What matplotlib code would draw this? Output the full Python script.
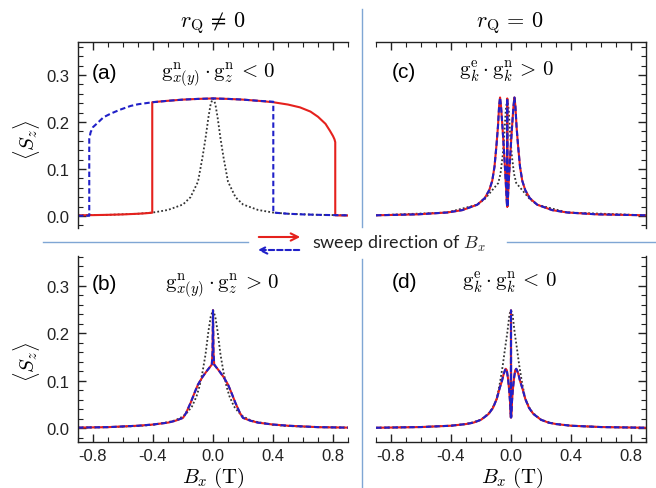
import matplotlib
matplotlib.use('Agg')
import matplotlib.pyplot as plt
from matplotlib.lines import Line2D
from matplotlib.patches import FancyArrowPatch
from matplotlib.ticker import MultipleLocator, FormatStrFormatter

plt.rcParams['mathtext.fontset'] = 'cm'
plt.rcParams['font.family'] = ['Liberation Sans', 'DejaVu Sans']
plt.rcParams['axes.unicode_minus'] = False

# ---- panel (a): r_Q != 0, g^n_x(y) * g^n_z < 0 ----
dot_a_x = [-0.9, -0.7, -0.5, -0.4, -0.3, -0.2, -0.15, -0.1, -0.07, -0.05, -0.03, -0.015, 0.0,
           0.015, 0.03, 0.05, 0.07, 0.1, 0.15, 0.2, 0.3, 0.4, 0.5, 0.7, 0.9]
dot_a_y = [0.0015, 0.0025, 0.0048, 0.0074, 0.0129, 0.0245, 0.040, 0.073, 0.125, 0.165, 0.211, 0.239, 0.250,
           0.239, 0.211, 0.165, 0.125, 0.073, 0.040, 0.0245, 0.0129, 0.0074, 0.0048, 0.0025, 0.0015]

red_a_x = [-0.9, -0.8, -0.7, -0.6, -0.5, -0.45, -0.405, -0.405, -0.3, -0.2, -0.1, 0.0, 0.1, 0.2, 0.3,
           0.4, 0.5, 0.58, 0.65, 0.7, 0.75, 0.78, 0.8, 0.81, 0.815, 0.815, 0.85, 0.9]
red_a_y = [0.0015, 0.0019, 0.0025, 0.0034, 0.0048, 0.0058, 0.0070, 0.242, 0.245, 0.2475, 0.249, 0.250,
           0.249, 0.2475, 0.245, 0.242, 0.237, 0.231, 0.222, 0.211, 0.196, 0.181, 0.170, 0.163, 0.157,
           0.0015, 0.0012, 0.0010]

blue_a_x = [-0.9, -0.825, -0.825, -0.816, -0.8, -0.776, -0.73, -0.68, -0.62, -0.55, -0.5, -0.4, -0.3,
            -0.2, -0.1, 0.0, 0.1, 0.2, 0.3, 0.402, 0.402, 0.5, 0.6, 0.7, 0.8, 0.9]
blue_a_y = [0.0005, 0.0005, 0.164, 0.178, 0.189, 0.196, 0.210, 0.218, 0.226, 0.234, 0.2376, 0.242, 0.245,
            0.2475, 0.249, 0.250, 0.249, 0.2475, 0.245, 0.243, 0.0073, 0.0048, 0.0034, 0.0025, 0.0019, 0.0015]

# ---- panel (b): r_Q != 0, g^n_x(y) * g^n_z > 0 ----
dot_b_x = [-0.9, -0.7, -0.5, -0.4, -0.3, -0.25, -0.2, -0.17, -0.14, -0.11, -0.09, -0.07, -0.05, -0.03,
           -0.015, 0.0, 0.015, 0.03, 0.05, 0.07, 0.09, 0.11, 0.14, 0.17, 0.2, 0.25, 0.3, 0.4, 0.5, 0.7, 0.9]
dot_b_y = [0.0015, 0.0025, 0.0048, 0.0074, 0.013, 0.017, 0.025, 0.034, 0.046, 0.067, 0.088, 0.118, 0.155,
           0.205, 0.235, 0.248, 0.235, 0.205, 0.155, 0.118, 0.088, 0.067, 0.046, 0.034, 0.025, 0.017,
           0.013, 0.0074, 0.0048, 0.0025, 0.0015]

sweep_b_x = [-0.9, -0.7, -0.5, -0.4, -0.3, -0.25, -0.2, -0.18, -0.15, -0.12, -0.1, -0.07, -0.04, -0.02,
             -0.008, -0.003, 0.0, 0.003, 0.008, 0.02, 0.04, 0.07, 0.1, 0.12, 0.15, 0.18, 0.2, 0.25, 0.3,
             0.4, 0.5, 0.7, 0.9]
sweep_b_y = [0.0015, 0.0025, 0.0055, 0.008, 0.012, 0.016, 0.022, 0.032, 0.053, 0.077, 0.092, 0.108, 0.121,
             0.129, 0.134, 0.160, 0.248, 0.160, 0.134, 0.129, 0.121, 0.108, 0.092, 0.077, 0.053, 0.032,
             0.022, 0.016, 0.012, 0.008, 0.0055, 0.0025, 0.0015]

# ---- panel (c): r_Q = 0, g^e_k * g^n_k > 0 ----
dot_c_x = [-0.9, -0.425, -0.225, -0.175, -0.125, -0.085, -0.07, -0.055, -0.045, -0.035, -0.025, -0.015,
           -0.005, 0.005, 0.02, 0.035, 0.075, 0.125, 0.175, 0.375, 0.9]
dot_c_y = [0.0015, 0.0075, 0.024, 0.036, 0.055, 0.07, 0.09, 0.13, 0.17, 0.225, 0.25, 0.225, 0.17, 0.13,
           0.09, 0.07, 0.055, 0.036, 0.024, 0.0075, 0.0015]

sweep_c_x = [-0.9, -0.625, -0.425, -0.325, -0.225, -0.175, -0.145, -0.125, -0.11, -0.097, -0.087, -0.079,
             -0.073, -0.067, -0.057, -0.047, -0.037, -0.029, -0.026, -0.025, -0.024, -0.021, -0.013,
             -0.003, 0.007, 0.017, 0.023, 0.029, 0.037, 0.047, 0.06, 0.075, 0.095, 0.125, 0.175, 0.275,
             0.375, 0.575, 0.9]
sweep_c_y = [0.0015, 0.0035, 0.0075, 0.0125, 0.024, 0.038, 0.055, 0.075, 0.105, 0.15, 0.19, 0.235,
             0.252, 0.235, 0.19, 0.14, 0.085, 0.035, 0.02, 0.25, 0.02, 0.035, 0.085, 0.14, 0.19, 0.235,
             0.252, 0.235, 0.19, 0.15, 0.105, 0.075, 0.055, 0.038, 0.024, 0.0125, 0.0075, 0.0035, 0.0015]

# ---- panel (d): r_Q = 0, g^e_k * g^n_k < 0 ----
dot_d_x = [-0.9, -0.6, -0.4, -0.3, -0.25, -0.2, -0.14, -0.12, -0.095, -0.073, -0.055, -0.04, -0.025,
           -0.01, 0.0, 0.01, 0.025, 0.04, 0.055, 0.073, 0.095, 0.12, 0.14, 0.2, 0.25, 0.3, 0.4, 0.6, 0.9]
dot_d_y = [0.0012, 0.0027, 0.0055, 0.009, 0.013, 0.018, 0.034, 0.045, 0.062, 0.097, 0.132, 0.167, 0.20,
           0.24, 0.248, 0.24, 0.20, 0.167, 0.132, 0.097, 0.062, 0.045, 0.034, 0.018, 0.013, 0.009,
           0.0055, 0.0027, 0.0012]

sweep_d_x = [-0.9, -0.6, -0.4, -0.3, -0.25, -0.2, -0.15, -0.12, -0.095, -0.075, -0.06, -0.05, -0.04,
             -0.035, -0.028, -0.02, -0.012, -0.005, -0.002, -0.001, 0.0, 0.001, 0.002, 0.005, 0.012,
             0.02, 0.028, 0.035, 0.04, 0.05, 0.06, 0.075, 0.095, 0.12, 0.15, 0.2, 0.25, 0.3, 0.4, 0.6, 0.9]
sweep_d_y = [0.0012, 0.0027, 0.0055, 0.009, 0.012, 0.018, 0.03, 0.043, 0.062, 0.085, 0.10, 0.113, 0.122,
             0.125, 0.122, 0.105, 0.08, 0.05, 0.03, 0.023, 0.248, 0.023, 0.03, 0.05, 0.08, 0.105, 0.122,
             0.125, 0.122, 0.113, 0.10, 0.085, 0.062, 0.043, 0.03, 0.018, 0.012, 0.009, 0.0055, 0.0027,
             0.0012]

RED = '#e5211d'
BLUE = '#2020c8'
DOT = '#333333'
SEP = '#7fa6d4'
DASH = (0, (2.6, 1.4))

W, H = 656, 489


def box(l, t, r, b):
    return [l / W, 1 - b / H, (r - l) / W, (b - t) / H]


def fpos(x, y):
    return (x / W, 1 - y / H)


def setup(ax, yside, xside, ylim):
    ax.set_xlim(-0.9, 0.9)
    ax.set_ylim(*ylim)
    for s in ['left', 'right', 'top', 'bottom']:
        ax.spines[s].set_visible(s in (yside, xside))
        ax.spines[s].set_linewidth(1.0)
        ax.spines[s].set_color('#222222')
    ax.xaxis.set_major_locator(MultipleLocator(0.4))
    ax.xaxis.set_minor_locator(MultipleLocator(0.1))
    ax.yaxis.set_major_locator(MultipleLocator(0.1))
    ax.yaxis.set_minor_locator(MultipleLocator(0.02))
    ax.xaxis.set_major_formatter(FormatStrFormatter('%.1f'))
    ax.yaxis.set_major_formatter(FormatStrFormatter('%.1f'))
    ax.tick_params(which='both', direction='in', color='#222222', labelcolor='#222222',
                   left=(yside == 'left'), right=(yside == 'right'),
                   top=(xside == 'top'), bottom=(xside == 'bottom'),
                   labelleft=(yside == 'left'), labelright=False,
                   labeltop=False, labelbottom=(xside == 'bottom'), labelsize=12)
    ax.tick_params(axis='y', which='major', pad=6)
    ax.tick_params(axis='x', which='major', pad=4)
    ax.tick_params(which='major', length=6, width=1)
    ax.tick_params(which='minor', length=3.5, width=0.8)
    ax.patch.set_alpha(0)


def draw(ax, dx, dy, rx, ry, bx, by):
    ax.plot(dx, dy, color=DOT, lw=1.3, linestyle=(0, (1, 1.2)))
    ax.plot(rx, ry, color=RED, lw=1.5)
    ax.plot(bx, by, color=BLUE, lw=1.5, linestyle=DASH)


fig = plt.figure(figsize=(6.56, 4.89), dpi=100)

ax_a = fig.add_axes(box(78, 43, 348, 229))
ax_b = fig.add_axes(box(78, 257, 348, 443))
ax_c = fig.add_axes(box(376, 43, 646, 229))
ax_d = fig.add_axes(box(376, 257, 646, 443))

setup(ax_a, 'left', 'top', (-0.0255, 0.370))
setup(ax_b, 'left', 'bottom', (-0.0287, 0.362))
setup(ax_c, 'right', 'top', (-0.0255, 0.370))
setup(ax_d, 'right', 'bottom', (-0.0287, 0.362))

draw(ax_a, dot_a_x, dot_a_y, red_a_x, red_a_y, blue_a_x, blue_a_y)
draw(ax_b, dot_b_x, dot_b_y, sweep_b_x, sweep_b_y, sweep_b_x, sweep_b_y)
draw(ax_c, dot_c_x, dot_c_y, sweep_c_x, sweep_c_y, sweep_c_x, sweep_c_y)
draw(ax_d, dot_d_x, dot_d_y, sweep_d_x, sweep_d_y, sweep_d_x, sweep_d_y)

# headers
fig.text(*fpos(213, 23), r'$r_{\rm Q}\,\neq\,0$', ha='center', va='center', fontsize=16)
fig.text(*fpos(510, 23), r'$r_{\rm Q}\,=\,0$', ha='center', va='center', fontsize=16)

# panel labels and conditions
fig.text(*fpos(92, 74), '(a)', ha='left', va='center', fontsize=15)
fig.text(*fpos(92, 285), '(b)', ha='left', va='center', fontsize=15)
fig.text(*fpos(392, 73), '(c)', ha='left', va='center', fontsize=15)
fig.text(*fpos(392, 283), '(d)', ha='left', va='center', fontsize=15)
fig.text(*fpos(218, 75), r'$\mathrm{g}^{\mathrm{n}}_{x(y)}\cdot\mathrm{g}^{\mathrm{n}}_{z}\,<\,0$',
         ha='center', va='center', fontsize=15)
fig.text(*fpos(222, 286), r'$\mathrm{g}^{\mathrm{n}}_{x(y)}\cdot\mathrm{g}^{\mathrm{n}}_{z}\,>\,0$',
         ha='center', va='center', fontsize=15)
fig.text(*fpos(507, 72), r'$\mathrm{g}^{\mathrm{e}}_{k}\cdot\mathrm{g}^{\mathrm{n}}_{k}\,>\,0$',
         ha='center', va='center', fontsize=15)
fig.text(*fpos(510, 283), r'$\mathrm{g}^{\mathrm{e}}_{k}\cdot\mathrm{g}^{\mathrm{n}}_{k}\,<\,0$',
         ha='center', va='center', fontsize=15)

# axis labels
fig.text(*fpos(26, 140), r'$\langle S_z\rangle$', rotation=90, ha='center', va='center', fontsize=15)
fig.text(*fpos(26, 362), r'$\langle S_z\rangle$', rotation=90, ha='center', va='center', fontsize=15)
fig.text(*fpos(213, 478), r'$B_x\ (\mathrm{T})$', ha='center', va='center', fontsize=15)
fig.text(*fpos(512, 478), r'$B_x\ (\mathrm{T})$', ha='center', va='center', fontsize=15)

# separators
for (x0, y0, x1, y1) in [(362, 10, 362, 228), (362, 260, 362, 489),
                         (43, 243, 248, 243), (507, 243, 656, 243)]:
    p0, p1 = fpos(x0, y0), fpos(x1, y1)
    fig.add_artist(Line2D([p0[0], p1[0]], [p0[1], p1[1]], transform=fig.transFigure,
                          color=SEP, lw=1.0))

# sweep direction legend
fig.add_artist(FancyArrowPatch(fpos(256, 238), fpos(303, 238), transform=fig.transFigure,
                               arrowstyle='->', mutation_scale=13, color=RED, lw=1.5))
fig.add_artist(FancyArrowPatch(fpos(302, 251), fpos(255, 251), transform=fig.transFigure,
                               arrowstyle='->', mutation_scale=13, color=BLUE, lw=1.5,
                               linestyle=(0, (2.6, 1.4))))
fig.text(*fpos(312, 244), r'sweep direction of $B_x$', ha='left', va='center', fontsize=13,
         family=['Lato', 'DejaVu Sans'], color='#222222')

fig.savefig('out.png', dpi=100)
